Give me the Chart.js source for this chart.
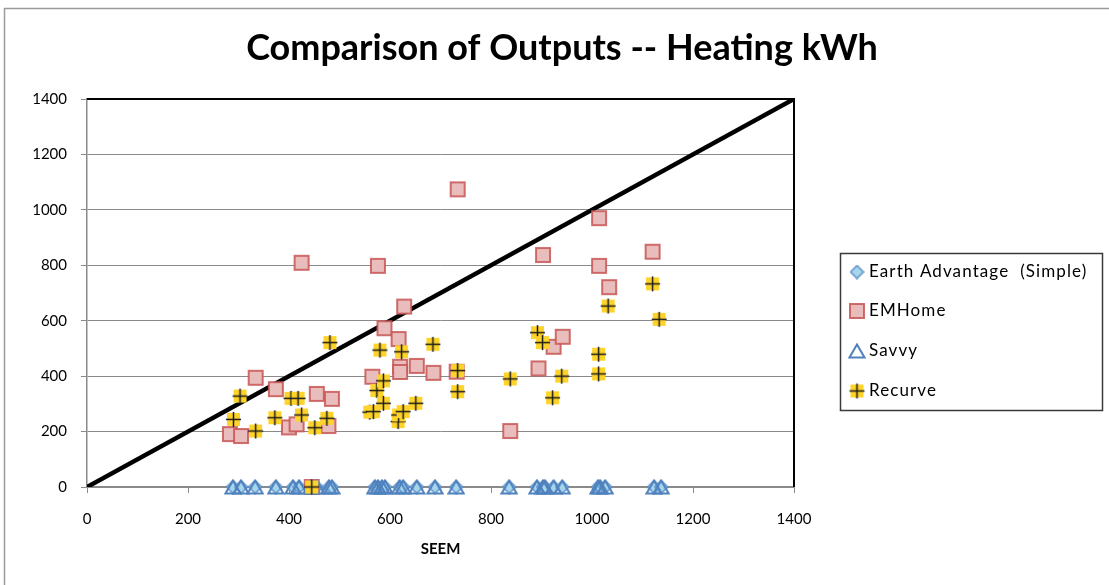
<!DOCTYPE html>
<html>
<head>
<meta charset="utf-8">
<script src="https://cdn.jsdelivr.net/npm/chart.js@4.4.1/dist/chart.umd.min.js"></script>
<style>
html,body{margin:0;padding:0;background:#fff;}
#wrap{width:1109px;height:585px;position:relative;}
</style>
</head>
<body>
<div id="wrap"><canvas id="c" width="1109" height="585"></canvas></div>
<script>
// ---- data ----
const chartTitle = 'Comparison of Outputs -- Heating kWh';
const xAxisTitle = 'SEEM';
const seriesNames = ['Earth Advantage  (Simple)', 'EMHome', 'Savvy', 'Recurve'];
const emHomeX = [283,305,334,374,400,415,425,445,455,478,485,565,576,589,617,620,620,628,653,686,732,734,838,894,903,924,942,1014,1014,1034,1120];
const emHomeY = [191,184,394,353,215,226,809,0,336,220,318,398,798,573,534,434,415,651,437,412,416,1074,202,428,837,506,542,970,798,721,849];
const recurveX = [290,303,334,372,404,418,425,445,451,475,481,560,567,574,580,587,587,616,617,623,626,651,685,734,734,838,892,902,922,940,1013,1013,1032,1120,1133];
const recurveY = [244,328,202,250,320,320,260,0,214,248,521,270,272,348,494,383,302,236,260,488,272,302,515,420,344,390,557,521,322,400,479,408,653,733,605];
const seemX = [289,305,333,374,408,420,444,455,479,485,570,576,584,590,619,626,653,689,731,836,891,903,907,924,941,1012,1016,1026,1123,1137];
const earthAdvY = seemX.map(() => 0);
const savvyY = seemX.map(() => 0);
const refLineX = [0, 1400];
const refLineY = [0, 1400];
const axisTicks = [0,200,400,600,800,1000,1200,1400];

function pts(xs, ys){ return xs.map((x,i)=>({x:x, y:ys[i]})); }

function mk(w, h, draw){ const c=document.createElement('canvas'); c.width=w; c.height=h; draw(c.getContext('2d')); return c; }
const emMarker = mk(18,18,g=>{ g.fillStyle='#E8BDBC'; g.fillRect(2,2,14,14); g.strokeStyle='rgba(200,85,85,0.85)'; g.lineWidth=2; g.strokeRect(2,2,14,14); });
const recMarker = mk(17,17,g=>{ g.fillStyle='#FFD42A'; g.fillRect(2,2,13,13); g.strokeStyle='#1a1a1a'; g.lineWidth=1.5; g.beginPath(); g.moveTo(8.5,1); g.lineTo(8.5,16); g.moveTo(1,8.5); g.lineTo(16,8.5); g.stroke(); });
const eaMarker = mk(15,15,g=>{ g.fillStyle='#A6D6EC'; g.strokeStyle='#5B8FC9'; g.lineWidth=1.5; g.beginPath(); g.moveTo(7.5,1); g.lineTo(14,7.5); g.lineTo(7.5,14); g.lineTo(1,7.5); g.closePath(); g.fill(); g.stroke(); });
const svMarker = mk(18,16,g=>{ g.strokeStyle='#4F81BD'; g.lineWidth=2; g.beginPath(); g.moveTo(9,1.5); g.lineTo(16.5,14.5); g.lineTo(1.5,14.5); g.closePath(); g.stroke(); });
const markers = [eaMarker, emMarker, svMarker, recMarker];

const frame = {
  id:'frame',
  beforeDraw(chart){
    const ctx=chart.ctx; ctx.save(); ctx.fillStyle='#fff'; ctx.fillRect(0,0,chart.width,chart.height);
    ctx.strokeStyle='#9a9a9a'; ctx.lineWidth=1.5;
    ctx.beginPath(); ctx.moveTo(4.5, 600); ctx.lineTo(4.5, 8.5); ctx.lineTo(1200, 8.5); ctx.stroke();
    ctx.font='bold 36px Lato'; ctx.fillStyle='#000'; ctx.textAlign='center'; ctx.textBaseline='middle';
    ctx.fillText(chartTitle, 562, 48);
    ctx.restore();
  },
  beforeDatasetsDraw(chart){
    const a=chart.chartArea, ctx=chart.ctx; ctx.save();
    ctx.strokeStyle='#000'; ctx.lineWidth=2;
    ctx.beginPath(); ctx.moveTo(a.left, a.top); ctx.lineTo(a.right, a.top); ctx.lineTo(a.right, a.bottom); ctx.stroke();
    ctx.restore();
  },
  afterDraw(chart){
    const ctx=chart.ctx; ctx.save();
    ctx.strokeStyle='#3a3a3a'; ctx.lineWidth=1.5;
    ctx.strokeRect(840.5, 253.5, 262, 157);
    ctx.font='17px Lato'; ctx.fillStyle='#000'; ctx.textBaseline='middle'; ctx.textAlign='left';
    if ('letterSpacing' in ctx) ctx.letterSpacing='1.1px';
    const ys=[272,311,351,391];
    seriesNames.forEach((n,i)=>{
      const m=markers[i];
      ctx.drawImage(m, 857-m.width/2, ys[i]-m.height/2);
      ctx.fillText(n, 869, ys[i]);
    });
    ctx.restore();
  }
};

const plainTick = v => String(v);

new Chart(document.getElementById('c'), {
  type:'scatter',
  data:{ datasets:[
    { type:'line', label:'ref', data:pts(refLineX, refLineY), borderColor:'#000', borderWidth:4.5, pointRadius:0, order:10, showLine:true, fill:false },
    { label:seriesNames[0], data:pts(seemX, earthAdvY), pointStyle:eaMarker, order:4, clip:false },
    { label:seriesNames[1], data:pts(emHomeX, emHomeY), pointStyle:emMarker, order:3, clip:false },
    { label:seriesNames[2], data:pts(seemX, savvyY), pointStyle:svMarker, order:2, clip:false },
    { label:seriesNames[3], data:pts(recurveX, recurveY), pointStyle:recMarker, order:1, clip:false }
  ]},
  options:{
    responsive:false, animation:false, devicePixelRatio:1,
    layout:{ padding:{ left:0, right:315, top:99, bottom:0 } },
    plugins:{ legend:{ display:false }, tooltip:{ enabled:false }, title:{ display:false } },
    scales:{
      x:{ type:'linear', min:0, max:1400,
        afterBuildTicks(s){ s.ticks = axisTicks.map(v=>({value:v})); },
        afterFit(s){ s.height = 98; },
        grid:{ drawOnChartArea:false, drawTicks:true, tickLength:6, color:'#8a8a8a' },
        border:{ color:'#8a8a8a', width:1.5 },
        ticks:{ color:'#000', font:{ family:'Lato', size:15 }, padding:17, maxRotation:0, callback:plainTick },
        title:{ display:true, text:xAxisTitle, color:'#000', font:{ family:'Lato', size:15, weight:'bold' }, padding:{ top:0, bottom:27 } }
      },
      y:{ type:'linear', min:0, max:1400,
        afterBuildTicks(s){ s.ticks = axisTicks.map(v=>({value:v})); },
        afterFit(s){ s.width = 87; },
        grid:{ color:'#8a8a8a', lineWidth:1, tickLength:6 },
        border:{ color:'#8a8a8a', width:1.5 },
        ticks:{ color:'#000', font:{ family:'Lato', size:15 }, padding:14, callback:plainTick }
      }
    }
  },
  plugins:[frame]
});
</script>
</body>
</html>
